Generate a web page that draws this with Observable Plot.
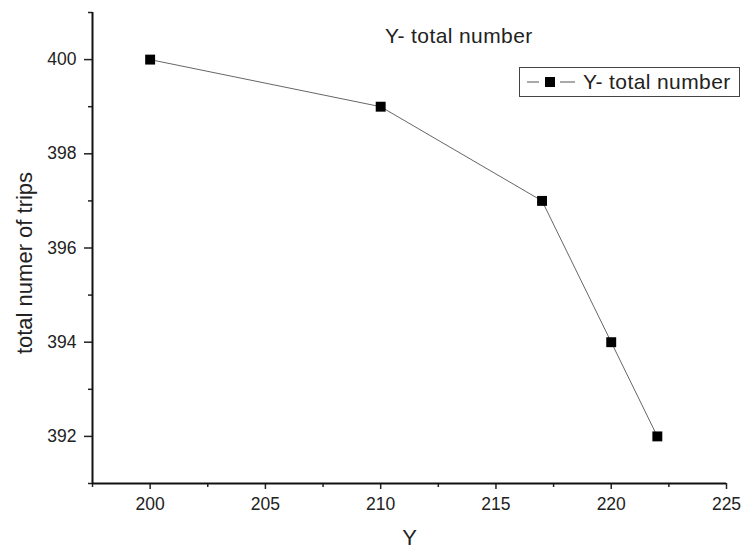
<!DOCTYPE html>
<html>
<head>
<meta charset="utf-8">
<script src="https://cdn.jsdelivr.net/npm/d3@7"></script>
<script src="https://cdn.jsdelivr.net/npm/@observablehq/plot@0.6"></script>
<style>
  html, body { margin: 0; padding: 0; background: #fff; }
  #wrap { position: relative; width: 742px; height: 550px; font-family: "Liberation Sans", Arial, sans-serif; color: #222; }
  #title { position: absolute; left: 385px; top: 24px; font-size: 21px; letter-spacing: 0.4px; white-space: nowrap; }
  #legend { position: absolute; left: 519px; top: 67px; width: 219px; height: 28px; border: 1px solid #444; box-sizing: content-box; background: #fff; display: flex; align-items: center; white-space: nowrap; font-size: 21px; letter-spacing: 0.4px; }
  #legend svg { margin-left: 7px; margin-right: 6px; }
</style>
</head>
<body>
<div id="wrap">
  <div id="chart"></div>
  <div id="title"></div>
  <div id="legend"></div>
</div>
<script>
// Data
const xValues = [200, 210, 217, 220, 222];
const yValues = [400, 399, 397, 394, 392];
const seriesName = "Y- total number";
const xTicks = [200, 205, 210, 215, 220, 225];
const xMinorTicks = [197.5, 202.5, 207.5, 212.5, 217.5, 222.5];
const yTicks = [392, 394, 396, 398, 400];
const yMinorTicks = [391, 393, 395, 397, 399, 401];
const xLabel = "Y";
const yLabel = "total numer of trips";

const data = xValues.map((x, i) => ({x, y: yValues[i]}));

const plot = Plot.plot({
  width: 742,
  height: 550,
  marginLeft: 92,
  marginRight: 16,
  marginTop: 12,
  marginBottom: 67,
  style: { fontFamily: "'Liberation Sans', Arial, sans-serif", fontSize: "17px", color: "#222", background: "#fff" },
  x: { domain: [197.5, 225] },
  y: { domain: [391, 401] },
  marks: [
    Plot.axisX({ ticks: xMinorTicks, tickSize: 4, text: null, label: null, stroke: "#222", strokeWidth: 1.5 }),
    Plot.axisX({ ticks: xTicks, tickSize: 6, tickPadding: 8, tickFormat: d3.format("d"), label: null, stroke: "#222", strokeWidth: 1.5, fontSize: 17.5, fill: "#222" }),
    Plot.axisY({ ticks: yMinorTicks, tickSize: 4, text: null, label: null, stroke: "#222", strokeWidth: 1.5 }),
    Plot.axisY({ ticks: yTicks, tickSize: 8, tickPadding: 8, tickFormat: d3.format("d"), label: null, stroke: "#222", strokeWidth: 1.5, fontSize: 17.5, fill: "#222" }),
    Plot.ruleX([197.5], { stroke: "#111", strokeWidth: 2 }),
    Plot.ruleY([391], { stroke: "#111", strokeWidth: 2 }),
    Plot.line(data, { x: "x", y: "y", stroke: "#666", strokeWidth: 1 }),
    Plot.dot(data, { x: "x", y: "y", symbol: "square", r: 5.6, fill: "#000", stroke: "none" }),
    Plot.text([xLabel], { frameAnchor: "bottom", dy: 61, fontSize: 22, fill: "#222", text: d => d }),
    Plot.text([yLabel], { frameAnchor: "left", textAnchor: "middle", dx: -68, dy: 15, rotate: -90, fontSize: 22, fill: "#222", text: d => d })
  ]
});
document.getElementById("chart").appendChild(plot);

document.getElementById("title").textContent = seriesName;
const legend = document.getElementById("legend");
legend.innerHTML = `<svg width="50" height="14" viewBox="0 0 50 14">
  <line x1="0" y1="7" x2="12" y2="7" stroke="#555" stroke-width="1"/>
  <rect x="18" y="2" width="10" height="10" fill="#000"/>
  <line x1="33" y1="7" x2="48" y2="7" stroke="#555" stroke-width="1"/>
</svg><span></span>`;
legend.querySelector("span").textContent = seriesName;
</script>
</body>
</html>
